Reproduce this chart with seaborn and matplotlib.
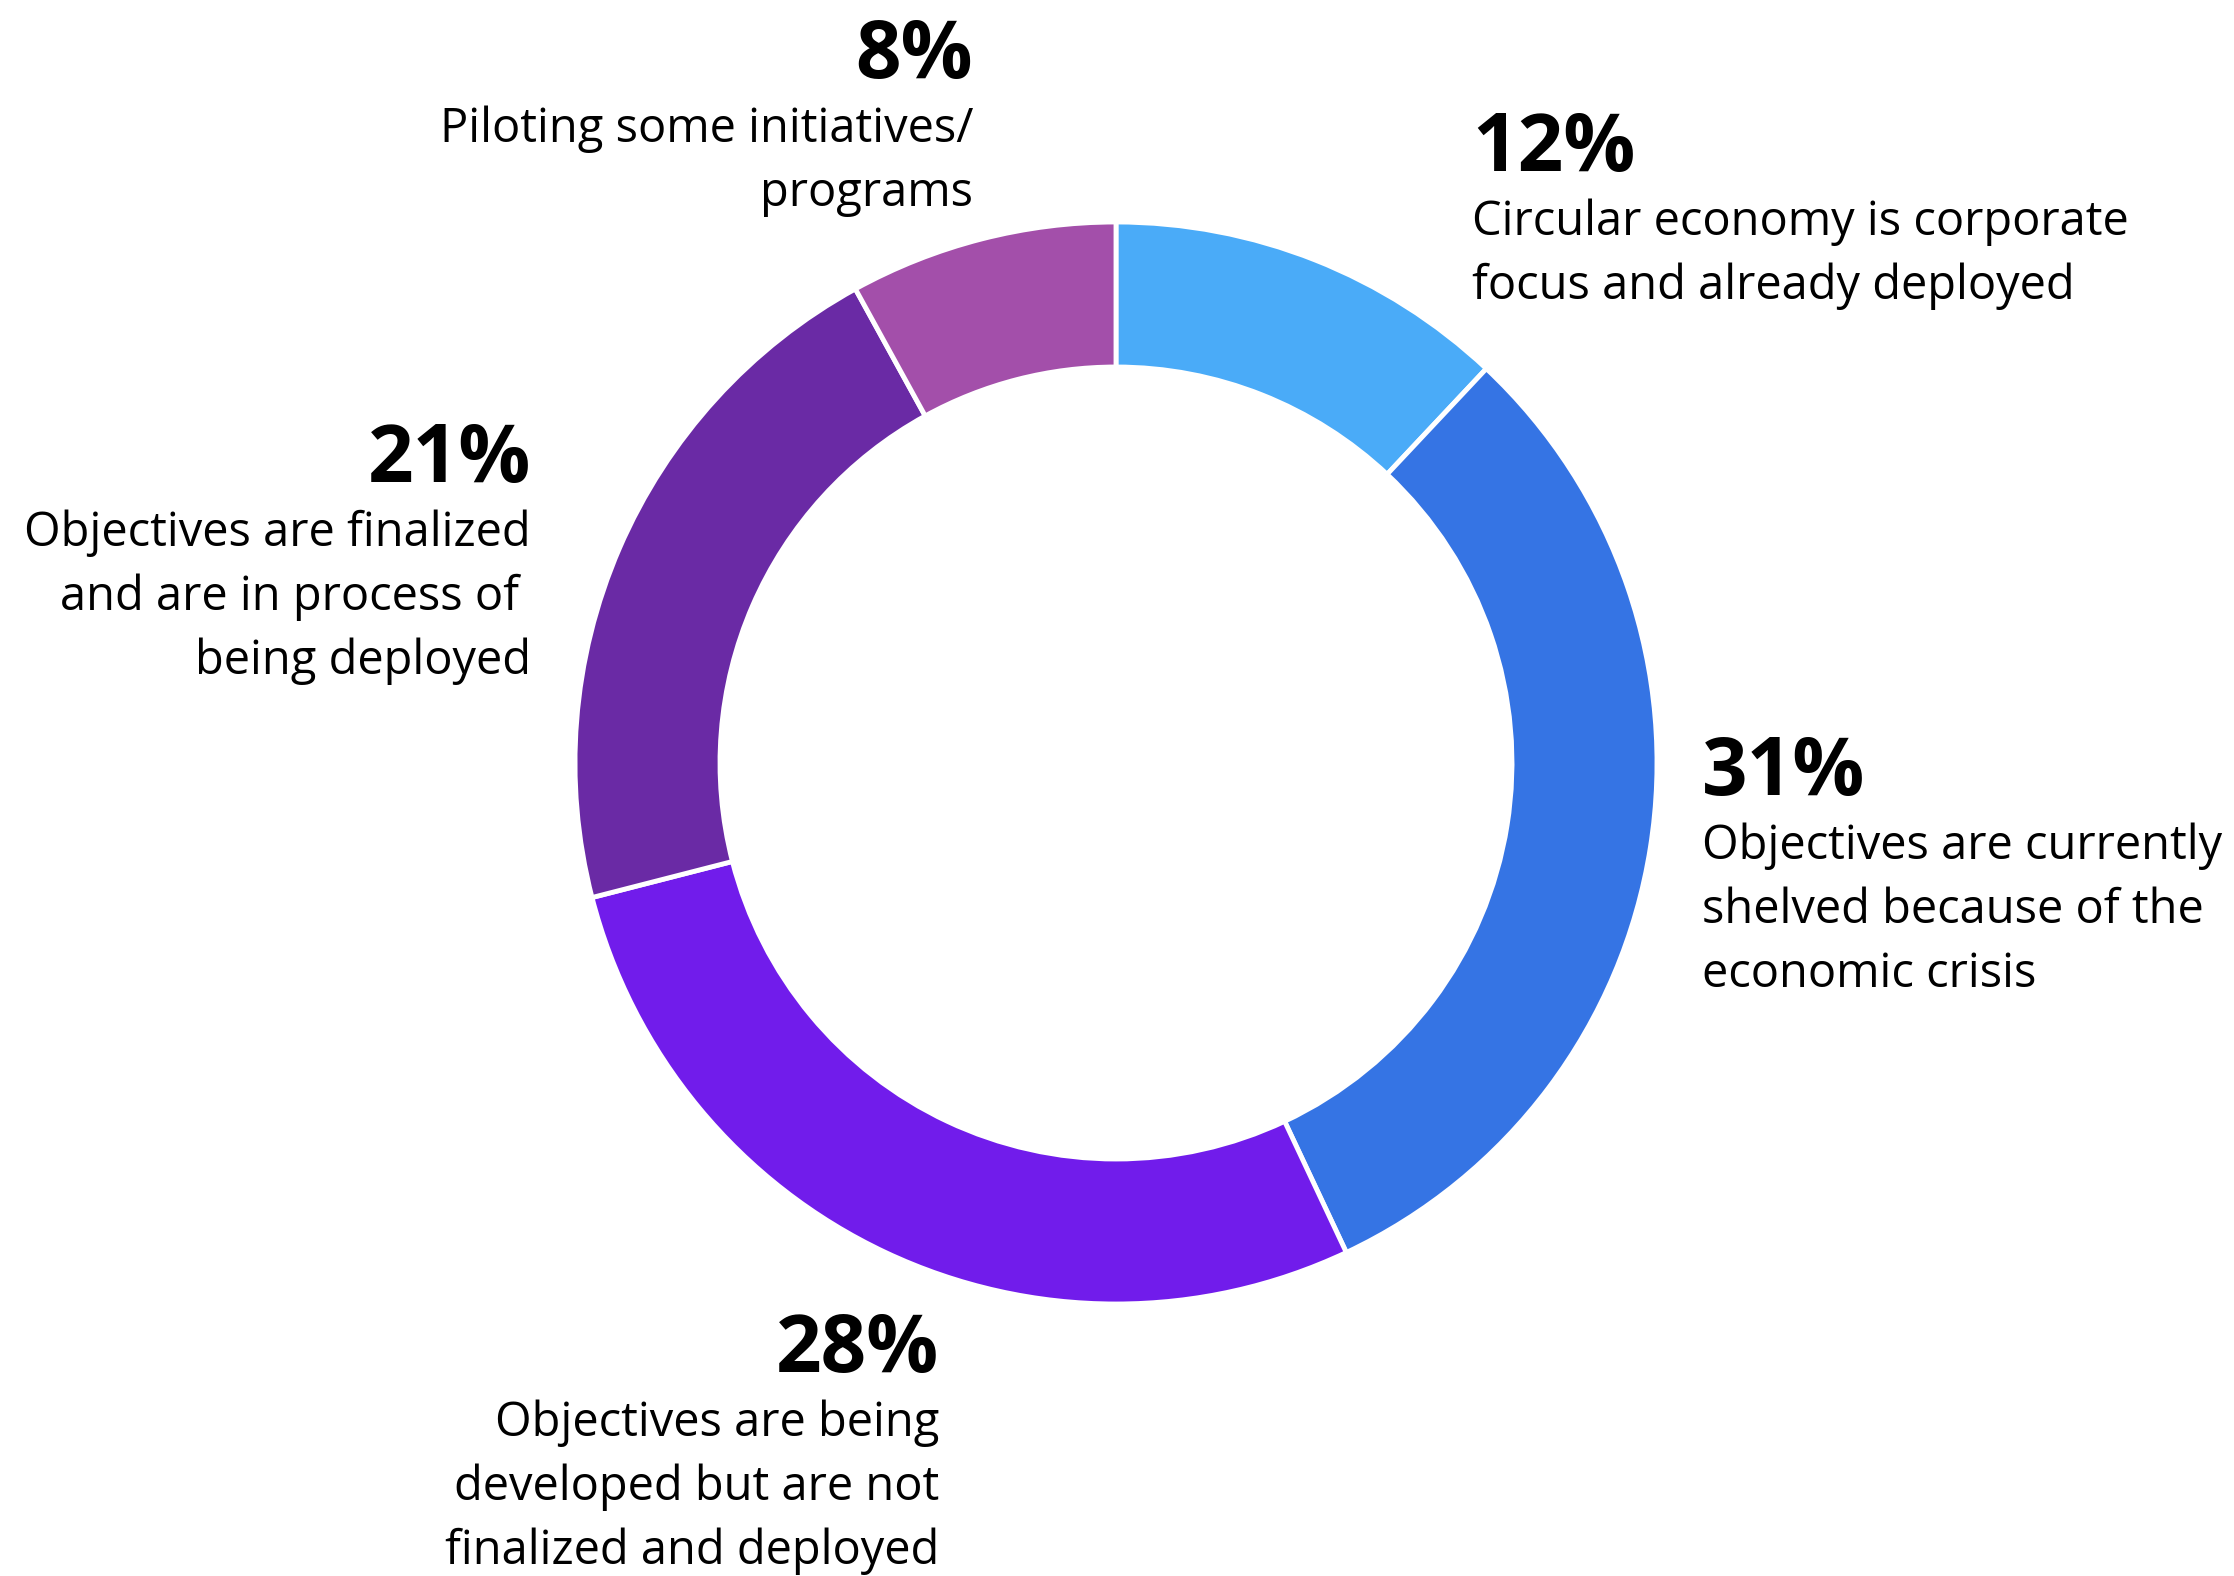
import matplotlib
matplotlib.use("Agg")
import matplotlib.pyplot as plt
import seaborn as sns

# Share of respondents per circular-economy maturity stage (clockwise from top)
shares = [12, 31, 28, 21, 8]
pct_labels = ["12%", "31%", "28%", "21%", "8%"]
descriptions = [
    "Circular economy is corporate\nfocus and already deployed",
    "Objectives are currently\nshelved because of the\neconomic crisis",
    "Objectives are being\ndeveloped but are not\nfinalized and deployed",
    "Objectives are finalized\nand are in process of \nbeing deployed",
    "Piloting some initiatives/\nprograms",
]
slice_colors = ["#4AABF8", "#3574E4", "#711CEB", "#6A2AA5", "#A34FAA"]

# Figure in pixel units
W, H = 2234, 1576
CENTER = (1116, H - 763)
R_OUT, RING = 541, 145

# Label anchors: x, baseline of the percentage (from top), alignment
label_layout = [
    (1472, 171, "left"),
    (1702, 795, "left"),
    (939, 1372, "right"),
    (531, 482, "right"),
    (973, 78, "right"),
]
LINE_STEP = 64

sns.set_theme(style="white")
plt.rcParams["font.family"] = ["Open Sans", "DejaVu Sans"]

fig = plt.figure(figsize=(W / 100, H / 100), dpi=100)
fig.patch.set_facecolor("white")
ax = fig.add_axes([0, 0, 1, 1])

palette = sns.color_palette(slice_colors)
ax.pie(
    shares,
    colors=palette,
    startangle=90,
    counterclock=False,
    radius=R_OUT,
    center=CENTER,
    wedgeprops=dict(width=RING, edgecolor="white", linewidth=3.5),
)
ax.set_xlim(0, W)
ax.set_ylim(0, H)
ax.set_aspect("equal")
ax.axis("off")

for pct, desc, (x, base, ha) in zip(pct_labels, descriptions, label_layout):
    ax.text(x, H - base, pct, fontsize=57.5, fontweight="bold", color="#000000",
            ha=ha, va="baseline")
    for j, line in enumerate(desc.split("\n")):
        ax.text(x, H - (base + LINE_STEP * (j + 1)), line, fontsize=33.8,
                color="#000000", ha=ha, va="baseline")

fig.savefig("out.png", dpi=100, facecolor="white")
